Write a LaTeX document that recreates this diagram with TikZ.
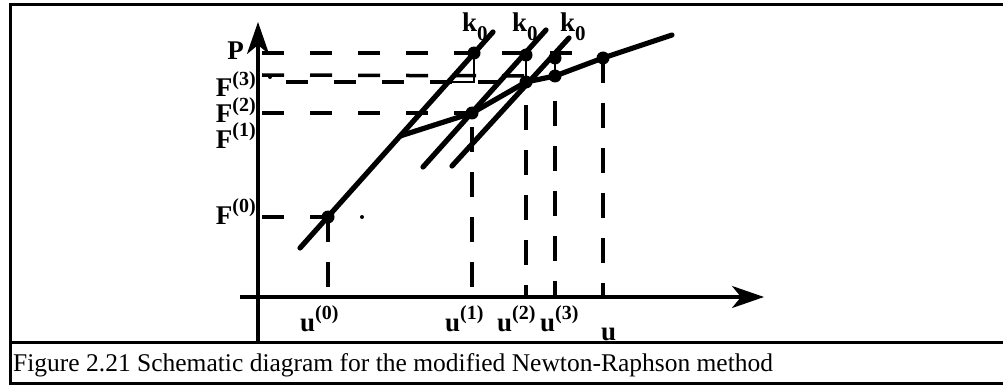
\documentclass[tikz,border=0pt]{standalone}
\usepackage{fontspec}
\setmainfont{Liberation Serif}
\usetikzlibrary{arrows.meta}
\newcommand\supx[1]{\raisebox{0.42em}{\fontsize{20}{20}\selectfont(#1)}}
\newcommand\subz{\raisebox{-0.3em}{\fontsize{21}{21}\selectfont 0}}
\begin{document}
\begin{tikzpicture}[x=1pt,y=-1pt,
  frame/.style={line width=3pt},
  axis/.style={line width=3.2pt,-{Stealth[length=32pt,width=22pt,inset=9pt]}},
  curve/.style={line width=5.2pt,line cap=round},
  dsh/.style={line width=3.5pt,dash pattern=on 22pt off 26pt},
  vdsh/.style={line width=3.5pt,dash pattern=on 25pt off 20pt},
  thinl/.style={line width=2.8pt},
  dot/.style={circle,fill,inner sep=0pt,minimum size=13pt},
  speck/.style={circle,fill,inner sep=0pt,minimum size=4pt},
  lbl/.style={inner sep=0pt,font=\fontsize{27}{27}\selectfont\bfseries},
  captxt/.style={inner sep=0pt,font=\fontsize{25.5}{25.5}\selectfont}]
\useasboundingbox (0,0) rectangle (1003,385);
% frame
\coordinate (TL) at (10,5);
\coordinate (TR) at (1003,5);
\coordinate (ML) at (10,342);
\coordinate (MR) at (1003,342);
\coordinate (BL) at (10,383);
\coordinate (BR) at (1003,383);
\draw[frame] (TR) -- (TL) -- (BL) -- (BR);
\draw[frame] (ML) -- (MR);
% axes
\coordinate (O) at (258,297);
\coordinate (Ybot) at (258,342);
\coordinate (Ytop) at (258,22);
\coordinate (Xl) at (240,297);
\coordinate (Xr) at (764,297);
\draw[axis] (Ybot) -- (Ytop);
\draw[axis] (Xl) -- (Xr);
% key points
\coordinate (A0) at (328,217);
\coordinate (K) at (400,136);
\coordinate (A1) at (472,113);
\coordinate (A2) at (526,82);
\coordinate (A3) at (555,76);
\coordinate (U) at (603,58);
\coordinate (E) at (672,35);
\coordinate (B1) at (474,53);
\coordinate (B2) at (526,55);
\coordinate (B3) at (555,58);
\coordinate (L1a) at (300,248);
\coordinate (L1b) at (493,32);
\coordinate (L2a) at (423,167);
\coordinate (L2b) at (546,30);
\coordinate (L3a) at (452,166);
\coordinate (L3b) at (569,38);
% dashed horizontals
\coordinate (Pl) at (262,53);
\coordinate (Pr) at (580,53);
\draw[dsh] (Pl) -- (Pr);
\coordinate (F3l) at (262,75);
\draw[dsh] (F3l) -- (A3);
\coordinate (F3bl) at (286,82);
\draw[dsh] (F3bl) -- (A2);
\coordinate (F2l) at (262,113);
\draw[dsh] (F2l) -- (A1);
\coordinate (F0l) at (262,217);
\draw[dsh] (F0l) -- (A0);
% dashed verticals
\draw[vdsh] (A0) -- (A0 |- O);
\draw[vdsh] ([yshift=-14pt]A1) -- (A1 |- O);
\draw[vdsh] ([yshift=-23pt]A2) -- (A2 |- O);
\draw[vdsh] ([yshift=-25pt]A3) -- (A3 |- O);
\draw[vdsh] (U) -- (U |- O);
% small slope triangle and drops
\coordinate (T1) at (449,82);
\coordinate (T2) at (474,82);
\draw[thinl] (T1) -- (T2) -- (B1);
\draw[thinl] (B2) -- (A2);
\draw[thinl] (B3) -- (A3);
% k0 lines and curve
\draw[curve] (L1a) -- (L1b);
\draw[curve] (L2a) -- (L2b);
\draw[curve] (L3a) -- (L3b);
\draw[curve,line join=round] (K) -- (A1) -- (A2) -- (A3) -- (U) -- (E);
% dots
\foreach \p in {A0,A1,A2,A3,U,B1,B2,B3} \node[dot] at (\p) {};
\node[speck] (s1) at (362,217) {};
\node[speck] (s2) at (270,77) {};
% y labels
\node[lbl,anchor=base east] (lP) at (244,60) {P};
\node[lbl,anchor=base east] (lF3) at (256,97) {F\supx{3}};
\node[lbl,anchor=base east] (lF2) at (256,123) {F\supx{2}};
\node[lbl,anchor=base east] (lF1) at (256,148) {F\supx{1}};
\node[lbl,anchor=base east] (lF0) at (256,224) {F\supx{0}};
% x labels
\node[lbl,anchor=base west] (lu0) at (300,331) {u\supx{0}};
\node[lbl,anchor=base west] (lu1) at (445,331) {u\supx{1}};
\node[lbl,anchor=base west] (lu2) at (497,331) {u\supx{2}};
\node[lbl,anchor=base west] (lu3) at (540,331) {u\supx{3}};
\node[lbl,anchor=base west] (lu) at (601,340) {u};
% k0 labels
\node[lbl,anchor=base west] (k1) at (462,32) {k\subz};
\node[lbl,anchor=base west] (k2) at (512,32) {k\subz};
\node[lbl,anchor=base west] (k3) at (560,32) {k\subz};
% caption
\node[captxt,anchor=base west] (capt) at (13,371) {Figure 2.21 Schematic diagram for the modified Newton-Raphson method};
\end{tikzpicture}
\end{document}
